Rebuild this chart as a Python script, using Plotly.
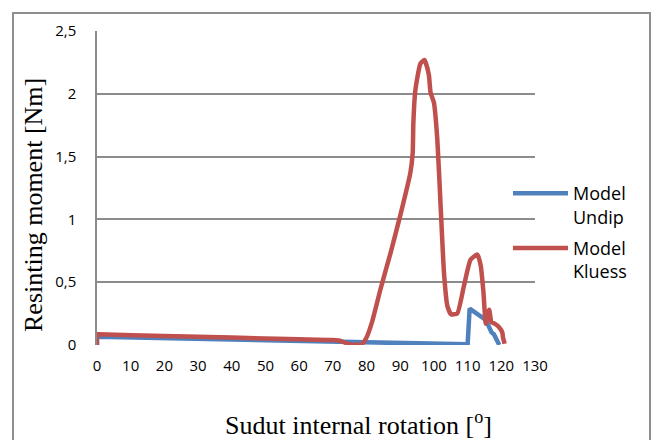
import plotly.graph_objects as go

# Data
undip_x = [0, 0, 110, 110.6, 115.4, 117.1, 117.8, 119.4]
undip_y = [0, 0.065, 0.005, 0.29, 0.2, 0.1, 0.085, 0.0]

kluess_x = [0, 0, 0.5, 20, 40, 60, 70, 72, 75, 78.5, 80, 81.6, 84.1, 87.1, 90.0, 93.0, 93.7, 93.9,
            94.5, 96.0, 97.2, 98.5, 99.0, 100.0, 101.0, 102.0, 103.0, 104.0, 105.1,
            106.9, 108.9, 110.9, 112.9, 113.9, 114.7, 115.4, 116.4, 117.1, 118.0,
            119.4, 120.3, 120.5, 121.0]
kluess_y = [0, 0.085, 0.085, 0.072, 0.059, 0.046, 0.04, 0.035, 0.005, 0.005, 0.06, 0.18, 0.44, 0.73, 1.03, 1.37, 1.53, 1.77,
            2.03, 2.24, 2.27, 2.15, 2.01, 1.93, 1.64, 1.10, 0.57, 0.31, 0.245,
            0.25, 0.47, 0.68, 0.72, 0.63, 0.42, 0.17, 0.28, 0.18, 0.17,
            0.14, 0.10, 0.06, 0.01]

x_ticks = list(range(0, 131, 10))
y_ticks = [0, 0.5, 1, 1.5, 2, 2.5]

names = ["Model<br>Undip", "Model<br>Kluess"]
colors = ["#4F81BD", "#C0504D"]

fig = go.Figure()
fig.add_trace(go.Scatter(x=undip_x, y=undip_y, mode="lines", name=names[0],
                         legendgroup="a",
                         line=dict(color=colors[0], width=4.5)))
fig.add_trace(go.Scatter(x=kluess_x, y=kluess_y, mode="lines", name=names[1],
                         legendgroup="b",
                         line=dict(color=colors[1], width=4.5, shape="spline", smoothing=0.5)))

L, R, T, B = 97, 119, 31, 95
W, H = 654, 440
pw, ph = W - L - R, H - T - B

fig.update_layout(
    width=W, height=H,
    margin=dict(l=L, r=R, t=T, b=B),
    paper_bgcolor="white", plot_bgcolor="white",
    separators=", ",
    font=dict(family="Open Sans", size=15, color="#000000"),
    showlegend=True,
    legend=dict(x=(508 - L) / pw, y=(H - B - 175) / ph, xanchor="left", yanchor="top",
                valign="top", bgcolor="rgba(0,0,0,0)",
                font=dict(family="Open Sans", size=18, color="#000000"),
                traceorder="grouped", tracegroupgap=5, itemwidth=55),
    xaxis=dict(range=[0, 130], tickvals=x_ticks, ticktext=[str(v) for v in x_ticks],
               showgrid=False, zeroline=False, showline=False, ticks="",
               ticklabelstandoff=10, fixedrange=True),
    yaxis=dict(range=[0, 2.5], tickvals=y_ticks, showgrid=True, gridcolor="#8c8c8c",
               gridwidth=1.5, zeroline=False, showline=True, linecolor="#8c8c8c",
               linewidth=1.5, ticks="", ticklabelstandoff=16, fixedrange=True),
    annotations=[
        dict(text="Sudut internal rotation [<sup>o</sup>]", xref="paper", yref="paper",
             x=(358 - L) / pw, y=(H - B - 423) / ph, xanchor="center", yanchor="middle",
             showarrow=False, font=dict(family="Liberation Serif", size=26, color="#000")),
        dict(text="Resinting moment [Nm]", xref="paper", yref="paper", textangle=-90,
             x=(33 - L) / pw, y=(H - B - 205) / ph, xanchor="center", yanchor="middle",
             showarrow=False, font=dict(family="Liberation Serif", size=26, color="#000")),
    ],
    shapes=[
        dict(type="rect", xref="paper", yref="paper",
             x0=(13 - L) / pw, x1=(650 - L) / pw, y0=(H - B - 460) / ph, y1=(H - B - 13) / ph,
             line=dict(color="#8f8f8f", width=2), fillcolor="rgba(0,0,0,0)", layer="below"),
    ],
)

fig.write_html("out.html")
